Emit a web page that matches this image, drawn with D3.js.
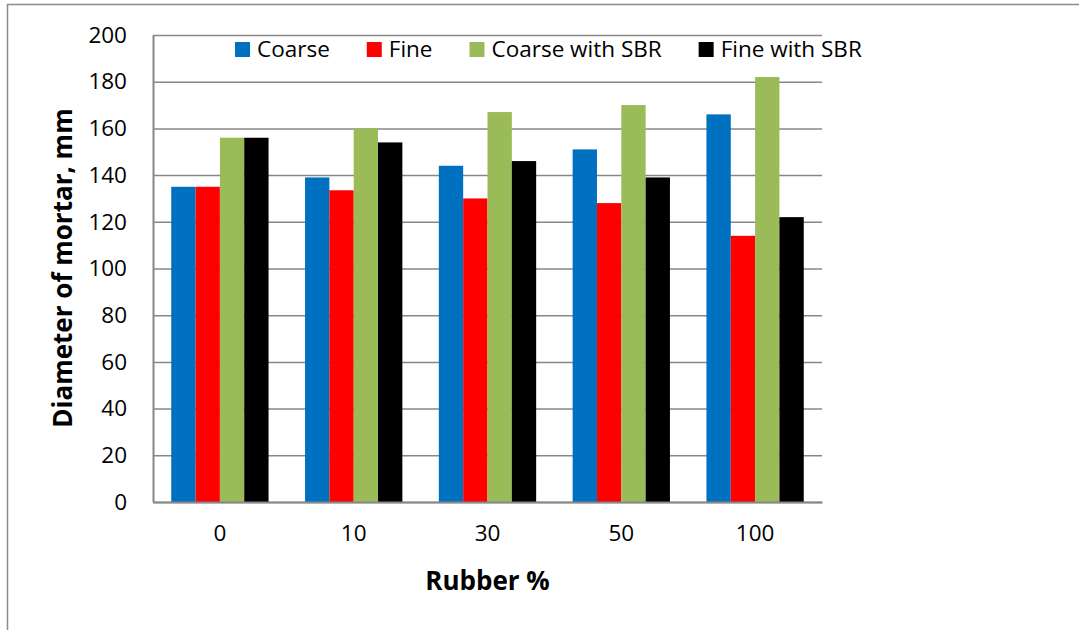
<!DOCTYPE html>
<html>
<head>
<meta charset="utf-8">
<script src="https://cdn.jsdelivr.net/npm/d3@7"></script>
<style>
	body { margin: 0; background: #fff; }
	text { font-family: "Open Sans", sans-serif; fill: #000; }
</style>
</head>
<body>
<div id="barChart"></div>
<script>
// Data
var categories = ["0", "10", "30", "50", "100"];
var seriesNames = ["Coarse", "Fine", "Coarse with SBR", "Fine with SBR"];
var seriesColors = ["#0070C0", "#FF0000", "#9BBB59", "#000000"];
var coarse = [135, 139, 144, 151, 166];
var fine = [135, 133.5, 130, 128, 114];
var coarseSBR = [156, 160, 167, 170, 182];
var fineSBR = [156, 154, 146, 139, 122];
var yTicks = [0, 20, 40, 60, 80, 100, 120, 140, 160, 180, 200];

var seriesValues = [coarse, fine, coarseSBR, fineSBR];
var rows = categories.map(function(c, i) {
	return { cat: c, vals: seriesValues.map(function(s, j) { return { key: j, value: s[i] }; }) };
});

const W = 1079, H = 630;
const margin = {top: 35, right: 257, bottom: 128, left: 153},
	w = W - margin.left - margin.right,
	h = H - margin.top - margin.bottom;

var root = d3.select("#barChart")
	.append("svg")
	.attr("width", W)
	.attr("height", H);

// outer chart frame (runs off the right and bottom edges)
root.append("path")
	.attr("d", "M7.5," + (H + 2) + "V4.5H" + (W + 2))
	.attr("fill", "none")
	.attr("stroke", "#8c8c8c")
	.attr("stroke-width", 1.5);

var svg = root.append("g")
	.attr("transform", "translate(" + margin.left + "," + margin.top + ")");

// gap width 150% like the spreadsheet default
var gap = 1.5 / 5.5;
var x0 = d3.scaleBand().domain(categories).range([0, w])
	.paddingInner(gap)
	.paddingOuter(gap / 2);
var x1 = d3.scaleBand().domain(d3.range(seriesNames.length)).range([0, x0.bandwidth()]);
var y = d3.scaleLinear().domain([0, 200]).range([h, 0]);

// gridlines
svg.append("g")
	.attr("class", "grid")
	.call(d3.axisLeft(y).tickValues(yTicks).tickSize(-w).tickFormat(""))
	.call(function(g) {
		g.select(".domain").remove();
		g.selectAll("line").attr("stroke", "#878787").attr("stroke-width", 1.5);
	});

// bars
svg.append("g").selectAll("g")
	.data(rows)
	.enter()
	.append("g")
	.attr("transform", function(d) { return "translate(" + x0(d.cat) + ",0)"; })
	.selectAll("rect")
	.data(function(d) { return d.vals; })
	.enter()
	.append("rect")
	.attr("x", function(d) { return x1(d.key); })
	.attr("y", function(d) { return y(d.value); })
	.attr("width", x1.bandwidth())
	.attr("height", function(d) { return h - y(d.value); })
	.attr("fill", function(d) { return seriesColors[d.key]; });

// y axis
var gY = svg.append("g")
	.call(d3.axisLeft(y).tickValues(yTicks).tickSize(0).tickPadding(26))
	.call(function(g) {
		g.select(".domain").attr("stroke", "#878787").attr("stroke-width", 2);
		g.selectAll("text").style("font-size", "22.5px").attr("font-family", null);
	});

// x axis
var gX = svg.append("g")
	.attr("transform", "translate(0," + h + ")")
	.call(d3.axisBottom(x0).tickSize(0).tickPadding(23))
	.call(function(g) {
		g.select(".domain").attr("stroke", "#878787").attr("stroke-width", 2);
		g.selectAll("text").style("font-size", "22.5px").attr("font-family", null);
	});

// axis titles
svg.append("text")
	.attr("x", w / 2)
	.attr("y", h + 88)
	.attr("text-anchor", "middle")
	.style("font-size", "26px")
	.style("font-weight", "bold")
	.text("Rubber %");

svg.append("text")
	.attr("transform", "translate(" + (72 - margin.left) + "," + (268 - margin.top) + ") rotate(-90)")
	.attr("text-anchor", "middle")
	.style("font-size", "26px")
	.style("font-weight", "bold")
	.text("Diameter of mortar, mm");

// legend, laid out left to right
var legend = root.append("g").attr("transform", "translate(235,0)");
var lx = 0;
seriesNames.forEach(function(name, i) {
	var item = legend.append("g").attr("transform", "translate(" + lx + ",0)");
	item.append("rect")
		.attr("x", 0)
		.attr("y", 42)
		.attr("width", 15)
		.attr("height", 15)
		.attr("fill", seriesColors[i]);
	var t = item.append("text")
		.attr("x", 22)
		.attr("y", 57)
		.style("font-size", "22.5px")
		.text(name);
	lx += 22 + t.node().getComputedTextLength() + 37;
});
</script>
</body>
</html>
